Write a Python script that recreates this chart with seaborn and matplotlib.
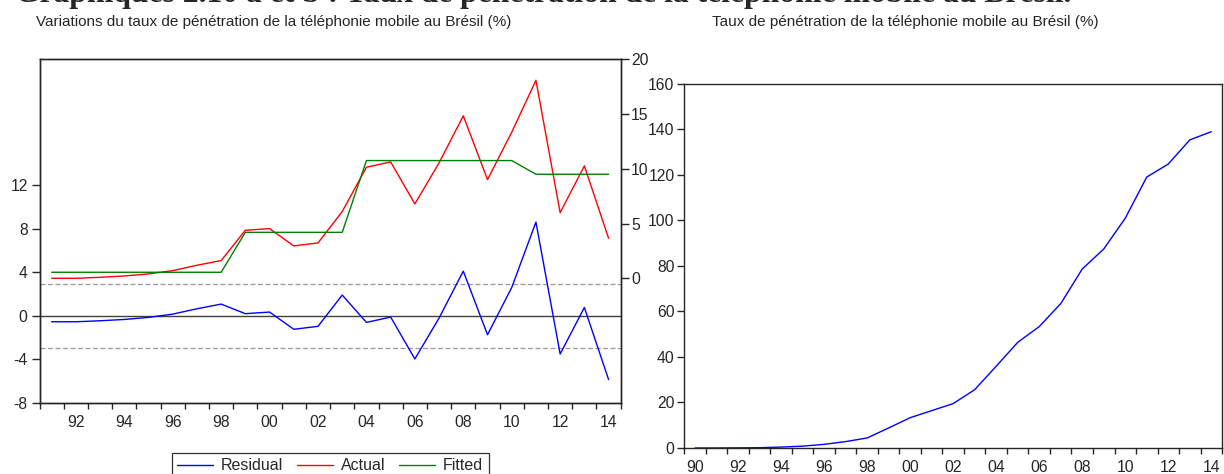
import numpy as np
import pandas as pd
import matplotlib
matplotlib.use("Agg")
import matplotlib.pyplot as plt
from matplotlib.lines import Line2D
import seaborn as sns

# --- data ------------------------------------------------------------------
years_var = list(range(1991, 2015))
actual = [0.0, 0.0, 0.09, 0.21, 0.4, 0.7, 1.19, 1.62, 4.39, 4.54, 2.96, 3.23,
          6.1, 10.15, 10.64, 6.8, 10.55, 14.85, 9.02, 13.35, 18.1, 6.0, 10.27, 3.66]
fitted = [0.55, 0.55, 0.55, 0.55, 0.55, 0.55, 0.55, 0.55,
          4.2, 4.2, 4.2, 4.2, 4.2,
          10.76, 10.76, 10.76, 10.76, 10.76, 10.76, 10.76,
          9.51, 9.51, 9.51, 9.51]
residual = [-0.55, -0.55, -0.46, -0.34, -0.15, 0.15, 0.64, 1.07, 0.19, 0.34, -1.24, -0.97,
            1.9, -0.61, -0.12, -3.96, -0.21, 4.09, -1.74, 2.59, 8.59, -3.51, 0.76, -5.85]
resid_se = 2.94

years_level = list(range(1990, 2015))
penetration = [0.0, 0.0, 0.05, 0.12, 0.4, 0.8, 1.6, 2.8, 4.4, 8.8, 13.3, 16.4, 19.5,
               25.6, 35.9, 46.4, 53.3, 63.4, 78.6, 87.4, 100.9, 119.0, 124.7, 135.3, 138.9]

left_ticks = [-8, -4, 0, 4, 8, 12]
right_ticks = [0, 5, 10, 15, 20]
level_ticks = [0, 20, 40, 60, 80, 100, 120, 140, 160]

main_title = "Graphiques 2.10 a et b : Taux de pénétration de la téléphonie mobile au Brésil."
title_a = "Variations du taux de pénétration de la téléphonie mobile au Brésil (%)"
title_b = "Taux de pénétration de la téléphonie mobile au Brésil (%)"

BLUE, RED, GREEN = "#0000ff", "#ff0000", "#008000"
TICK_FS = 11.3

sns.set_style("ticks")
plt.rcParams["font.family"] = ["Liberation Sans", "DejaVu Sans"]
plt.rcParams["font.size"] = 11
plt.rcParams["axes.linewidth"] = 1.0


def year_label(y):
    return f"{y % 100:02d}"


def style_year_axis(ax, first, last):
    ax.set_xlim(first - 0.5, last + 0.5)
    ax.set_xticks(np.arange(first - 0.5, last + 1.0, 1.0), minor=True)
    labelled = [y for y in range(first, last + 1) if y % 2 == 0]
    ax.set_xticks(labelled)
    ax.set_xticklabels([year_label(y) for y in labelled])
    ax.tick_params(axis="x", which="major", length=0, pad=8.5, labelsize=TICK_FS)
    ax.tick_params(axis="x", which="minor", length=4.5, width=1, direction="out")


fig = plt.figure(figsize=(12.24, 4.74), dpi=100)

# --- left panel: residual / actual / fitted --------------------------------
ax1 = fig.add_axes([0.0323, 0.1498, 0.4748, 0.7247])
ax2 = ax1.twinx()

df_var = pd.DataFrame({"year": years_var, "actual": actual,
                       "fitted": fitted, "residual": residual})

ax1.axhline(0, color="#404040", lw=1.0, zorder=1)
ax1.axhline(resid_se, color="#9a9a9a", lw=0.9, ls=(0, (4, 2)), zorder=1)
ax1.axhline(-resid_se, color="#9a9a9a", lw=0.9, ls=(0, (4, 2)), zorder=1)
sns.lineplot(data=df_var, x="year", y="residual", ax=ax1, color=BLUE, lw=1.0)
sns.lineplot(data=df_var, x="year", y="actual", ax=ax2, color=RED, lw=1.0)
sns.lineplot(data=df_var, x="year", y="fitted", ax=ax2, color=GREEN, lw=1.0)

ax1.set_ylim(-8, 23.5)
ax2.set_ylim(-11.4, 20)
ax1.set_yticks(left_ticks)
ax1.set_yticklabels([str(v) for v in left_ticks])
ax2.set_yticks(right_ticks)
ax2.set_yticklabels([str(v) for v in right_ticks])
for a in (ax1, ax2):
    a.set_xlabel("")
    a.set_ylabel("")
    for s in a.spines.values():
        s.set_visible(True)
        s.set_linewidth(1.0)
ax1.tick_params(axis="y", length=5.5, width=1, pad=3, labelsize=TICK_FS)
ax2.tick_params(axis="y", length=5.5, width=1, pad=2, labelsize=TICK_FS)
style_year_axis(ax1, years_var[0], years_var[-1])

handles = [Line2D([], [], color=BLUE, lw=1.0),
           Line2D([], [], color=RED, lw=1.0),
           Line2D([], [], color=GREEN, lw=1.0)]
leg = ax1.legend(handles, ["Residual", "Actual", "Fitted"], ncol=3,
                 loc="upper center", bbox_to_anchor=(0.5, -0.145),
                 borderaxespad=0, frameon=True, fancybox=False, edgecolor="black",
                 fontsize=11.5, handlelength=2.25, columnspacing=0.85,
                 borderpad=0.35, handletextpad=0.5)
leg.get_frame().set_linewidth(0.9)

fig.text(0.0294, 1 - 22 / 474, title_a, ha="left", va="center", fontsize=11)

# --- right panel: penetration level ----------------------------------------
ax3 = fig.add_axes([0.5591, 0.0549, 0.4393, 0.7686])
df_level = pd.DataFrame({"year": years_level, "penetration": penetration})
sns.lineplot(data=df_level, x="year", y="penetration", ax=ax3, color=BLUE, lw=1.0)
ax3.set_ylim(0, 160)
ax3.set_yticks(level_ticks)
ax3.set_yticklabels([str(v) for v in level_ticks])
ax3.set_xlabel("")
ax3.set_ylabel("")
for s in ax3.spines.values():
    s.set_visible(True)
    s.set_linewidth(1.0)
ax3.tick_params(axis="y", length=5, width=1, pad=2, labelsize=TICK_FS)
style_year_axis(ax3, years_level[0], years_level[-1])

fig.text(0.5817, 1 - 22 / 474, title_b, ha="left", va="center", fontsize=11)

# bold page heading, mostly cut off by the top edge as in the source
fig.text(15 / 1224, 1 - 2 / 474, main_title, ha="left", va="baseline",
         fontsize=22.8, fontweight="bold", family=["Liberation Serif", "DejaVu Serif"])

fig.savefig("out.png", dpi=100)
